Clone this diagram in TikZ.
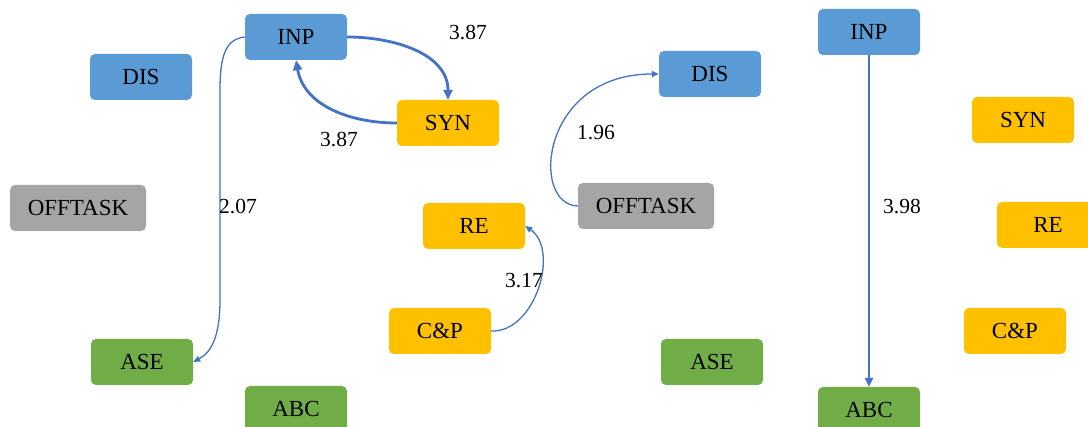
\documentclass[tikz,border=0pt]{standalone}
\usepackage{fontspec}
\setmainfont{Liberation Serif}
\usetikzlibrary{arrows.meta}
\definecolor{cblue}{HTML}{5B9BD5}
\definecolor{corange}{HTML}{FFC000}
\definecolor{cgreen}{HTML}{70AD47}
\definecolor{cgray}{HTML}{A5A5A5}
\definecolor{cedge}{HTML}{4472C4}
\tikzset{
  box/.style={rectangle, rounded corners=5pt, minimum width=102pt, minimum height=46pt, inner sep=0pt, font=\fontsize{23}{27}\selectfont, text=black},
  bluebox/.style={box, fill=cblue},
  orbox/.style={box, fill=corange},
  grbox/.style={box, fill=cgreen},
  gybox/.style={box, fill=cgray, minimum width=136pt},
  lbl/.style={font=\fontsize{21.5}{25}\selectfont, text=black, inner sep=0pt},
  thickedge/.style={draw=cedge, line width=2.8pt, -{Triangle[length=10pt, width=9pt]}},
  midedge/.style={draw=cedge, line width=2.3pt, -{Triangle[length=9pt, width=8pt]}},
  thinedge/.style={draw=cedge, line width=1.3pt, -{Triangle[length=7pt, width=6pt]}}
}
\begin{document}
\begin{tikzpicture}[x=1pt, y=-1pt]
\useasboundingbox (0,0) rectangle (1088,427);
\clip (0,0) rectangle (1088,427);
\fill[white] (0,0) rectangle (1088,427);
% left graph
\node[bluebox] (linp) at (296,37) {INP};
\node[bluebox] (ldis) at (141,77) {DIS};
\node[orbox] (lsyn) at (448,123) {SYN};
\node[gybox] (loff) at (78,208) {OFFTASK};
\node[orbox] (lre) at (474,226) {RE};
\node[orbox] (lcp) at (440,331) {C\&P};
\node[grbox] (lase) at (142,362) {ASE};
\node[grbox] (labc) at (296,409) {ABC};
% right graph
\node[bluebox] (rdis) at (710,74) {DIS};
\node[bluebox] (rinp) at (869,32) {INP};
\node[orbox] (rsyn) at (1023,120) {SYN};
\node[gybox] (roff) at (646,206) {OFFTASK};
\node[orbox] (rre) at (1048,225) {RE};
\node[orbox] (rcp) at (1015,331) {C\&P};
\node[grbox] (rase) at (712,362) {ASE};
\node[grbox] (rabc) at (869,410) {ABC};
% edges left
\draw[thickedge] (linp.east) to[out=0, in=90] (lsyn.north);
\draw[thickedge] (lsyn.west) to[out=180, in=-80] (linp.south);
\draw[thinedge] (linp.west) .. controls (226,39) and (220,55) .. (220,90) -- (220,300) .. controls (220,335) and (212,352) .. (lase.east);
\draw[thinedge] (lcp.east) .. controls (535,333) and (560,250) .. (lre.east);
% edges right
\draw[thinedge] (roff.west) .. controls (530,205) and (540,74) .. (rdis.west);
\draw[midedge] (rinp.south) -- (rabc.north);
% labels
\node[lbl] (l1) at (468,33) {3.87};
\node[lbl] (l2) at (339,140) {3.87};
\node[lbl] (l3) at (238,207) {2.07};
\node[lbl] (l4) at (524,281) {3.17};
\node[lbl] (l5) at (596,133) {1.96};
\node[lbl] (l6) at (902,207) {3.98};
\end{tikzpicture}
\end{document}
